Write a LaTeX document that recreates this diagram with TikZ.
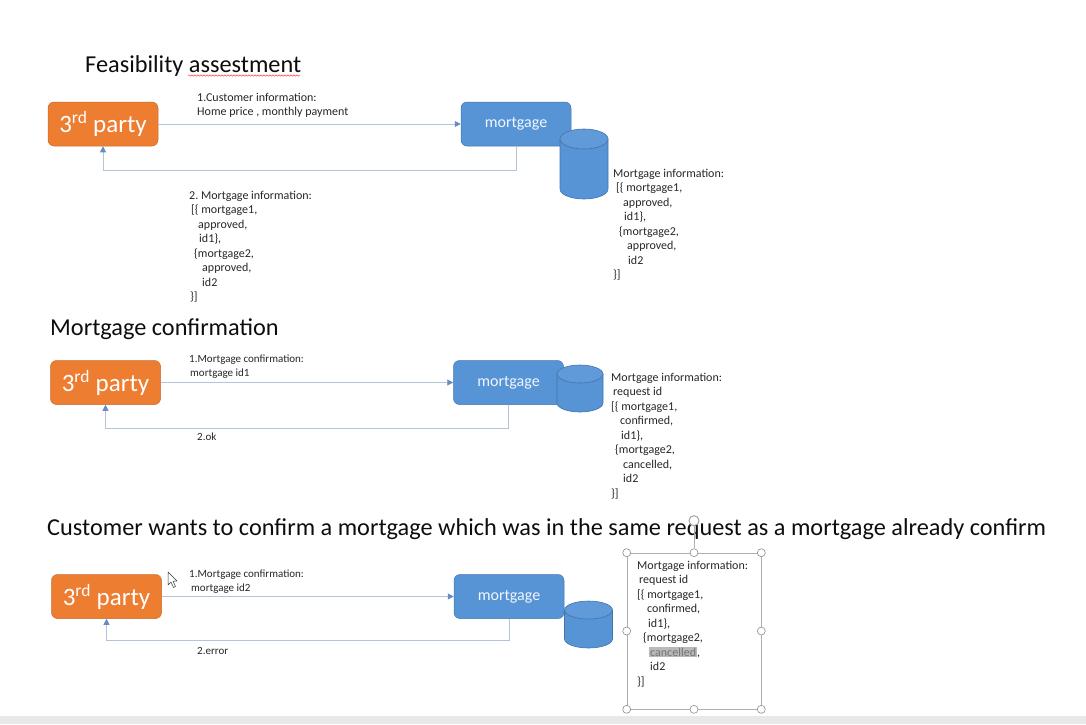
\documentclass[tikz,border=0pt]{standalone}
\usepackage{fontspec}
\setmainfont{Carlito}
\usepackage{tikz}
\usetikzlibrary{arrows.meta,positioning,decorations.pathmorphing}
\definecolor{partyorange}{RGB}{237,125,49}
\definecolor{mortblue}{RGB}{86,148,214}
\definecolor{mortedge}{RGB}{66,116,172}
\definecolor{linkgray}{RGB}{182,196,216}
\definecolor{tipblue}{RGB}{102,142,196}
\definecolor{txtgray}{RGB}{38,38,38}
\definecolor{gripgray}{RGB}{140,140,140}
\definecolor{hlgray}{RGB}{185,185,185}
\definecolor{bargray}{RGB}{232,232,232}
\newcommand{\dbcylinder}[5]{%
  \filldraw[fill=mortblue, draw=mortedge, line width=0.6pt] (#1-#4,#2) -- (#1-#4,#3)
    arc[start angle=180, end angle=360, x radius=#4pt, y radius=#5pt] -- (#1+#4,#2) -- cycle;
  \filldraw[fill=mortblue!94!white, draw=mortedge, line width=0.6pt] (#1,#2) ellipse[x radius=#4pt, y radius=#5pt];}
\newcommand{\hlword}[1]{{\setlength{\fboxsep}{1pt}\colorbox{hlgray}{\textcolor{black!55}{#1}}}}
\frenchspacing

\begin{document}
\begin{tikzpicture}[x=1pt, y=-1pt,
  party/.style={draw=partyorange!85!black, line width=0.5pt, fill=partyorange, rounded corners=6pt, minimum width=110pt, minimum height=44pt, inner sep=0pt, text=white, font=\fontsize{25}{29}\selectfont},
  mortbox/.style={draw=mortedge, line width=0.5pt, fill=mortblue, rounded corners=6pt, minimum width=110pt, minimum height=44pt, inner sep=0pt, text=white!92!mortblue, font=\fontsize{16}{19}\selectfont},
  heading/.style={anchor=base west, inner sep=0pt, text=black!95, font=\fontsize{24.3}{29}\selectfont},
  note/.style={anchor=north west, inner sep=0pt, align=left, text=txtgray, font=\fontsize{12}{14.5}\selectfont},
  smallnote/.style={note, font=\fontsize{11}{14}\selectfont},
  link/.style={draw=linkgray, line width=0.9pt, -{Triangle[length=6pt, width=6pt, color=tipblue]}},
  grip/.style={circle, draw=gripgray, fill=white, line width=0.6pt, minimum size=8pt, inner sep=0pt},
  selframe/.style={draw=gripgray!70, line width=0.6pt, minimum width=134pt, minimum height=156pt, inner sep=0pt}
]
\useasboundingbox (0,0) rectangle (1086,724);
\fill[bargray] (0,716) rectangle (1086,724);

\node[heading] (feasTitle) at (85,72) {Feasibility assestment};
\draw[red!75!white, line width=0.5pt, decorate, decoration={snake, amplitude=0.7pt, segment length=3pt}] (188,75.5) -- (300,75.5);
\node[party] (party1) at (103,124) {3\textsuperscript{rd} party};
\node[mortbox] (mort1) at (516,124) {mortgage};
\dbcylinder{584}{139}{189}{24}{10}
\draw[link] (party1) -- (mort1);
\draw[link] (mort1.south) -- ++(0,24) -| (party1.south);
\node[note] (ask1) at (197,92.5) {1.Customer information:\\Home price , monthly payment};
\node[note] (reply1) at (189,190.5) {2. Mortgage information:\\\hspace*{2pt}[\{ mortgage1,\\\hspace*{9pt}approved,\\\hspace*{10pt}id1\},\\\hspace*{5pt}\{mortgage2,\\\hspace*{13pt}approved,\\\hspace*{13pt}id2\\\hspace*{1pt}\}]};
\node[note] (store1) at (613,168.5) {Mortgage information:\\\hspace*{3pt}[\{ mortgage1,\\\hspace*{10pt}approved,\\\hspace*{11pt}id1\},\\\hspace*{6pt}\{mortgage2,\\\hspace*{14pt}approved,\\\hspace*{15pt}id2\\\}]};

\node[heading] (confTitle) at (50,335) {Mortgage confirmation};
\node[party] (party2) at (105.5,382.5) {3\textsuperscript{rd} party};
\node[mortbox] (mort2) at (508.5,382.5) {mortgage};
\dbcylinder{580}{374}{403}{23}{9}
\draw[link] (party2) -- (mort2);
\draw[link] (mort2.south) -- ++(0,24) -| (party2.south);
\node[smallnote] (ask2) at (189,354.3) {1.Mortgage confirmation:\\\hspace*{1pt}mortgage id1};
\node[smallnote, anchor=base west] (reply2) at (197,440) {2.ok};
\node[note] (store2) at (611,372.5) {Mortgage information:\\\hspace*{2pt}request id\\\hspace*{0pt}[\{ mortgage1,\\\hspace*{9pt}confirmed,\\\hspace*{10pt}id1\},\\\hspace*{4pt}\{mortgage2,\\\hspace*{12pt}cancelled,\\\hspace*{12pt}id2\\\}]};

\node[heading] (errTitle) at (47,535) {Customer wants to confirm a mortgage which was in the same request as a mortgage already confirm};
\node[party] (party3) at (106.5,596.5) {3\textsuperscript{rd} party};
\node[mortbox] (mort3) at (509,596.5) {mortgage};
\dbcylinder{588.5}{610}{639}{24}{9}
\draw[link] (party3) -- (mort3);
\draw[link] (mort3.south) -- ++(0,22) -| (party3.south);
\node[smallnote] (ask3) at (189,569.3) {1.Mortgage confirmation:\\\hspace*{2pt}mortgage id2};
\node[smallnote, anchor=base west] (reply3) at (197,654) {2.error};
\draw[fill=white, draw=black!80, line width=0.5pt, line join=round] (168,572) -- (168,585) -- (171,582) -- (173.5,587.5) -- (175.5,586.5) -- (173,581) -- (177,581) -- cycle;

\node[selframe] (selbox) at (694,631) {};
\foreach \a [count=\i] in {north west, north, north east, east, south east, south, south west, west}
  \node[grip] (grip\i) at (selbox.\a) {};
\node[grip, minimum size=10pt, line width=1pt, draw=gripgray!80] (spin) at ([yshift=32pt]selbox.north) {};
\draw[gripgray!70, line width=0.6pt] (spin) -- (grip2);
\node[note] (store3) at (637,560.5) {Mortgage information:\\\hspace*{2pt}request id\\\hspace*{0pt}[\{ mortgage1,\\\hspace*{10pt}confirmed,\\\hspace*{11pt}id1\},\\\hspace*{6pt}\{mortgage2,\\\hspace*{12pt}\hlword{cancelled},\\\hspace*{13pt}id2\\\}]};
\end{tikzpicture}
\end{document}
